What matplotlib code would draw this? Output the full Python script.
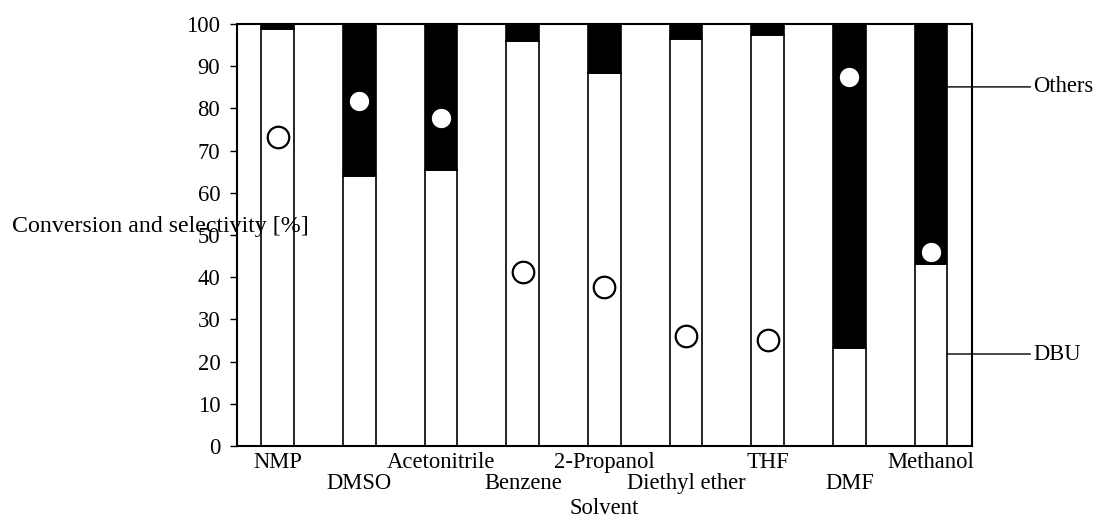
import matplotlib.pyplot as plt
import numpy as np

plt.rcParams['font.family'] = ['Liberation Serif', 'DejaVu Serif']

# solvents and measured values
solvents = ['NMP', 'DMSO', 'Acetonitrile', 'Benzene', '2-Propanol',
            'Diethyl ether', 'THF', 'DMF', 'Methanol']
dbu_sel = [98.8, 64.0, 65.5, 96.0, 88.5, 96.4, 97.3, 23.3, 43.1]
others_sel = [100 - v for v in dbu_sel]
conversion = [73.3, 81.8, 77.7, 41.2, 37.6, 26.1, 25.1, 87.5, 46.0]

FS = 16.3


def main():
    fig = plt.figure(figsize=(10.98, 5.2), dpi=100)
    ax = fig.add_axes([0.2158, 0.1423, 0.6694, 0.8115])
    x = np.arange(len(solvents))

    # stacked bars: DBU (white) and others (black)
    ax.bar(x, dbu_sel, width=0.4, color='white', edgecolor='black', linewidth=1.2)
    ax.bar(x, others_sel, bottom=dbu_sel, width=0.4, color='black',
           edgecolor='black', linewidth=1.2)

    # conversion circles
    ax.plot(x, conversion, 'o', markersize=15.5, markerfacecolor='white',
            markeredgecolor='black', markeredgewidth=1.6, zorder=3)

    ax.set_xlim(-0.5, len(solvents) - 0.5)
    ax.set_ylim(0, 100)
    ax.set_yticks(range(0, 101, 10))
    ax.tick_params(axis='y', labelsize=FS, length=5, width=1, direction='out', pad=7)
    ax.tick_params(axis='x', length=0, labelsize=FS, pad=4.5)
    ax.set_xticks(x)
    ax.set_xticklabels([s if i % 2 == 0 else '\n' + s for i, s in enumerate(solvents)])
    for lbl in ax.get_xticklabels():
        lbl.set_linespacing(0.97)
    for sp in ax.spines.values():
        sp.set_linewidth(1.5)

    ax.set_xlabel('Solvent', fontsize=FS, labelpad=3)
    # the y title sits horizontally, running into the plot area as in the original
    ax.text(-0.306, 0.52, 'Conversion and selectivity [%]', transform=ax.transAxes,
            fontsize=17.2, ha='left', va='center')

    # leader lines for the series
    ax.annotate('Others', xy=(8.2, 85.1), xytext=(9.25, 85.1), fontsize=FS,
                va='center', ha='left', annotation_clip=False,
                arrowprops=dict(arrowstyle='-', color='black', lw=1, shrinkA=0, shrinkB=0))
    ax.annotate('DBU', xy=(8.2, 21.8), xytext=(9.25, 21.8), fontsize=FS,
                va='center', ha='left', annotation_clip=False,
                arrowprops=dict(arrowstyle='-', color='black', lw=1, shrinkA=0, shrinkB=0))

    fig.savefig('out.png', dpi=100)


if __name__ == '__main__':
    main()
